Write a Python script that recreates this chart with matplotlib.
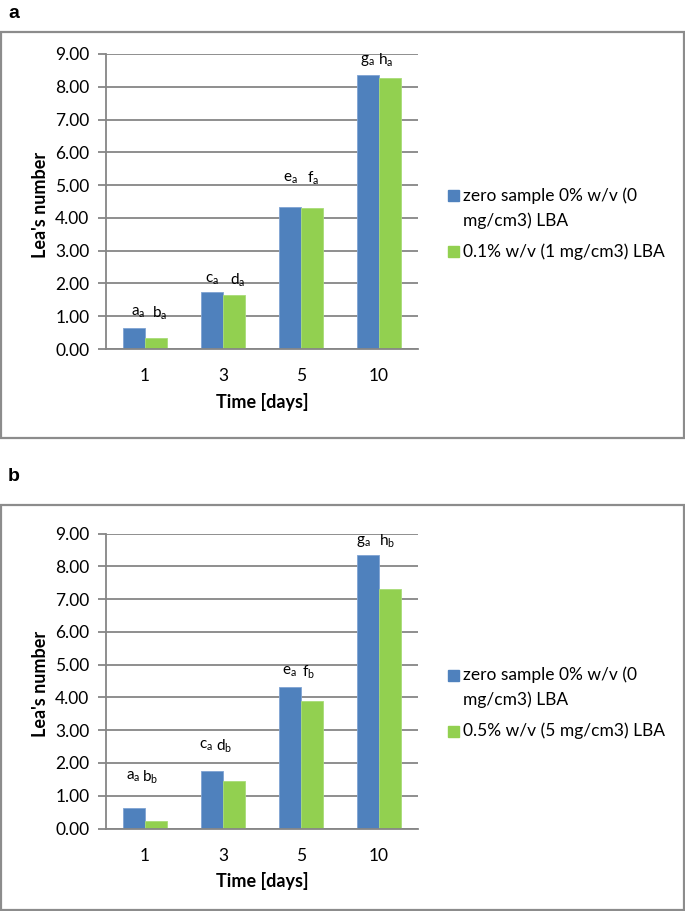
import matplotlib
matplotlib.use("Agg")
import matplotlib.pyplot as plt
from matplotlib.patches import Rectangle
import numpy as np

plt.rcParams['font.family'] = ['Lato', 'DejaVu Sans']
plt.rcParams['mathtext.fontset'] = 'custom'
plt.rcParams['mathtext.rm'] = 'Lato'
plt.rcParams['mathtext.it'] = 'Lato'

# ---------------- data ----------------
days = ["1", "3", "5", "10"]
yticks = [0, 1, 2, 3, 4, 5, 6, 7, 8, 9]

a_zero = [0.65, 1.75, 4.34, 8.36]
a_lba = [0.35, 1.65, 4.30, 8.26]
a_letters_zero = ["a_a", "c_a", "e_a", "g_a"]
a_letters_lba = ["b_a", "d_a", "f_a", "h_a"]
a_series = ["zero sample 0% w/v (0\nmg/cm3) LBA", "0.1% w/v (1 mg/cm3) LBA"]

b_zero = [0.64, 1.74, 4.33, 8.34]
b_lba = [0.23, 1.44, 3.88, 7.31]
b_letters_zero = ["a_a", "c_a", "e_a", "g_a"]
b_letters_lba = ["b_b", "d_b", "f_b", "h_b"]
b_series = ["zero sample 0% w/v (0\nmg/cm3) LBA", "0.5% w/v (5 mg/cm3) LBA"]

# ---------------- style ----------------
W, H = 685, 911
BLUE = "#4F81BD"
GREEN = "#92D050"
GRID = "#868686"
BOX = "#8C8C8C"
bw = 0.287

# label placement (style): y-values and x offsets
a_lab_y = [1.10, 2.10, 5.20, 8.80]
a_lab_dx = [(-0.09, 0.19), (-0.14, 0.19), (-0.14, 0.15), (-0.15, 0.09)]
b_lab_y = [1.57, 2.52, 4.78, 8.76]
b_lab_dx = [(-0.15, 0.06), (-0.22, 0.01), (-0.15, 0.10), (-0.20, 0.10)]

fig = plt.figure(figsize=(W / 100, H / 100), dpi=100)


def fx(px):
    return px / W


def fy(py):
    return 1 - py / H


def sub(s):
    m, s2 = s.split("_")
    return r"$\mathregular{" + m + "_{" + s2 + "}}$"


def panel(top_box, bot_box, y0px, y9px, zero, lba, lz, ll, laby, labdx, series, letter, letter_y):
    # panel frame
    fig.patches.append(Rectangle((fx(1), fy(bot_box)), fx(683), (bot_box - top_box) / H,
                                 transform=fig.transFigure, fill=False, edgecolor=BOX, lw=1.6))
    fig.text(fx(8), fy(letter_y), letter, fontsize=14, fontweight='bold',
             family='Liberation Sans', ha='left', va='baseline')

    ax = fig.add_axes([fx(106), fy(y0px), fx(418 - 106), (y0px - y9px) / H])
    x = np.arange(len(days))
    ax.bar(x - bw / 2, zero, bw, color=BLUE, edgecolor='#7FA3D3', linewidth=0.6, zorder=3)
    ax.bar(x + bw / 2, lba, bw, color=GREEN, edgecolor='#A8DC78', linewidth=0.6, zorder=3)
    ax.set_xlim(-0.5, len(days) - 0.5)
    ax.set_ylim(0, 9)
    ax.set_yticks(yticks)
    ax.set_yticklabels([f"{v:.2f}" for v in yticks], fontsize=12.5)
    ax.set_xticks(x)
    ax.set_xticklabels(days, fontsize=12.5)
    ax.tick_params(axis='x', length=0, pad=14)
    ax.tick_params(axis='y', length=6, color=GRID, width=1.3, pad=6)
    ax.yaxis.grid(True, color=GRID, lw=1.3, zorder=0)
    for s in ['top', 'right']:
        ax.spines[s].set_visible(False)
    ax.spines['left'].set_color(GRID)
    ax.spines['left'].set_linewidth(1.3)
    ax.spines['bottom'].set_color(GRID)
    ax.spines['bottom'].set_linewidth(1.3)
    ax.spines['bottom'].set_zorder(4)
    ax.set_axisbelow(True)

    for i in range(len(days)):
        ax.text(i + labdx[i][0], laby[i], sub(lz[i]), ha='center', va='center', fontsize=11)
        ax.text(i + labdx[i][1], laby[i], sub(ll[i]), ha='center', va='center', fontsize=11)

    # axis titles
    fig.text(fx(40), fy((y0px + y9px) / 2 + 3), "Lea's number", rotation=90, fontsize=13,
             fontweight='bold', ha='center', va='center')
    fig.text(fx(262), fy(y0px + 53), "Time [days]", fontsize=13, fontweight='bold',
             ha='center', va='center')

    # legend
    ly1 = (y0px + y9px) / 2 - 6
    entries = [(BLUE, series[0], ly1), (GREEN, series[1], ly1 + 56)]
    for col, txt, ly in entries:
        fig.patches.append(Rectangle((fx(448), fy(ly + 5.5)), fx(11), 11 / H,
                                     transform=fig.transFigure, color=col))
        for k, ln in enumerate(txt.split("\n")):
            fig.text(fx(463), fy(ly + 25 * k), ln, fontsize=12.5, ha='left', va='center')
    return ax


panel(32, 437.5, 349, 54, a_zero, a_lba, a_letters_zero, a_letters_lba, a_lab_y, a_lab_dx,
      a_series, "a", 18)
panel(505, 910, 828.5, 533.5, b_zero, b_lba, b_letters_zero, b_letters_lba, b_lab_y, b_lab_dx,
      b_series, "b", 481)

fig.savefig("out.png", dpi=100)
